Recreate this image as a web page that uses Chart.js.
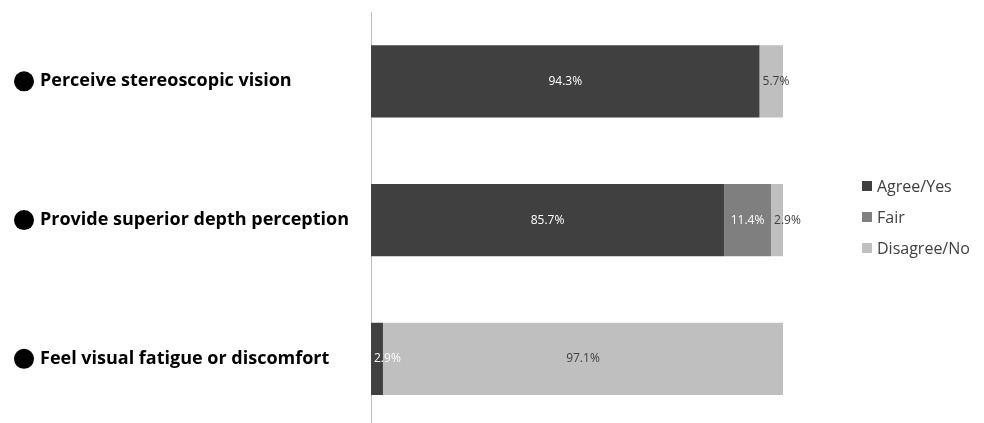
<!DOCTYPE html>
<html>
<head>
<meta charset="utf-8">
<script src="https://cdn.jsdelivr.net/npm/chart.js@4.4.1/dist/chart.umd.min.js"></script>
<style>
  html, body { margin: 0; padding: 0; background: #fff; overflow: hidden; }
  #wrap { position: relative; width: 984px; height: 423px; overflow: hidden; }
  #chart { position: absolute; left: 0; top: 0; }
  #legend { position: absolute; left: 862px; top: 174px; font-family: 'Open Sans', sans-serif; font-size: 16px; color: #404040; }
  #legend div { height: 31px; line-height: 24px; white-space: nowrap; }
  #legend span { display: inline-block; width: 10px; height: 10px; margin-right: 5px; vertical-align: 1px; }
</style>
</head>
<body>
<div id="wrap">
  <canvas id="chart" width="984" height="439"></canvas>
  <div id="legend"></div>
</div>
<script>
// data
const categories = ['Perceive stereoscopic vision', 'Provide superior depth perception', 'Feel visual fatigue or discomfort'];
const seriesNames = ['Agree/Yes', 'Fair', 'Disagree/No'];
const agreeValues = [94.3, 85.7, 2.9];
const fairValues = [0, 11.4, 0];
const disagreeValues = [5.7, 2.9, 97.1];

const barColors = ['#404040', '#7f7f7f', '#bfbfbf'];
const labelColors = ['#ffffff', '#ffffff', '#404040'];

// percentage labels inside each segment
const segmentLabels = {
  id: 'segmentLabels',
  afterDatasetsDraw(chart) {
    const ctx = chart.ctx;
    ctx.save();
    ctx.font = '12px "Open Sans", sans-serif';
    ctx.textBaseline = 'middle';
    chart.data.datasets.forEach((ds, di) => {
      chart.getDatasetMeta(di).data.forEach((bar, i) => {
        const v = ds.data[i];
        if (!v) return;
        const txt = v.toFixed(1) + '%';
        const left = Math.min(bar.x, bar.base);
        const w = Math.abs(bar.x - bar.base);
        const tw = ctx.measureText(txt).width;
        ctx.fillStyle = labelColors[di];
        if (tw + 4 > w) {
          ctx.textAlign = 'left';
          ctx.fillText(txt, left + 3, bar.y);
        } else {
          ctx.textAlign = 'center';
          ctx.fillText(txt, left + w / 2, bar.y);
        }
      });
    });
    ctx.restore();
  }
};

// round bullets in front of the category names
const bullets = {
  id: 'bullets',
  afterDraw(chart) {
    const ctx = chart.ctx;
    const y = chart.scales.y;
    ctx.save();
    ctx.fillStyle = '#000';
    categories.forEach((c, i) => {
      ctx.beginPath();
      ctx.arc(24, y.getPixelForTick(i), 10, 0, Math.PI * 2);
      ctx.fill();
    });
    ctx.restore();
  }
};

const valueLists = [agreeValues, fairValues, disagreeValues];

new Chart(document.getElementById('chart'), {
  type: 'bar',
  data: {
    labels: categories,
    datasets: seriesNames.map((name, i) => ({
      label: name,
      data: valueLists[i],
      backgroundColor: barColors[i],
      borderWidth: 0,
      barPercentage: 0.52,
      categoryPercentage: 1
    }))
  },
  options: {
    indexAxis: 'y',
    responsive: false,
    animation: false,
    layout: { padding: { left: 40, right: 201, top: 12, bottom: 0 } },
    plugins: {
      legend: { display: false },
      tooltip: { enabled: false }
    },
    scales: {
      x: {
        stacked: true,
        min: 0,
        max: 100,
        display: false
      },
      y: {
        stacked: true,
        grid: { display: false, drawTicks: false },
        border: { display: true, color: '#bfbfbf', width: 1 },
        afterFit(scale) { scale.width = 331; },
        ticks: {
          crossAlign: 'far',
          padding: 0,
          color: '#000',
          font: { family: '"Open Sans", sans-serif', size: 18, weight: 'bold' }
        }
      }
    }
  },
  plugins: [segmentLabels, bullets]
});

// legend built from the same series names and colours
const legendEl = document.getElementById('legend');
seriesNames.forEach((name, i) => {
  const row = document.createElement('div');
  row.innerHTML = '<span style="background:' + barColors[i] + '"></span>' + name;
  legendEl.appendChild(row);
});
</script>
</body>
</html>
